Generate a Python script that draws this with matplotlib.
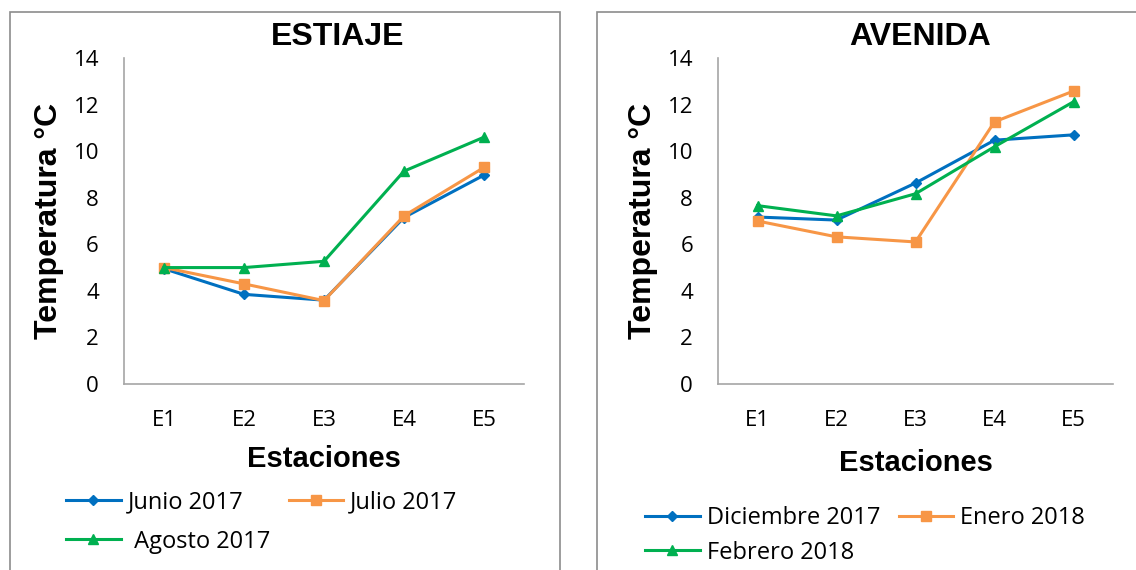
import matplotlib.pyplot as plt
from matplotlib.patches import Rectangle

estaciones = ["E1", "E2", "E3", "E4", "E5"]

junio = [4.95, 3.85, 3.6, 7.15, 8.97]
julio = [5.0, 4.3, 3.58, 7.22, 9.3]
agosto = [5.0, 5.0, 5.27, 9.14, 10.6]

diciembre = [7.17, 7.04, 8.63, 10.47, 10.7]
enero = [7.0, 6.32, 6.1, 11.26, 12.58]
febrero = [7.66, 7.22, 8.17, 10.19, 12.12]

azul = "#0070C0"
naranja = "#F79646"
verde = "#00B050"
W, H = 1136, 570

fig = plt.figure(figsize=(W / 100, H / 100), dpi=100)

# marcos de los graficos
for x0, x1 in [(10, 560), (597, 1140)]:
    fig.patches.append(Rectangle((x0 / W, -0.1), (x1 - x0) / W, (H - 12) / H + 0.1,
                                 transform=fig.transFigure, fill=False,
                                 edgecolor="#8c8c8c", linewidth=1.2))


def panel(left, width, series, title, tx, leg_y, leg_x, lsp, xpad):
    ax = fig.add_axes([left / W, (H - 384) / H, width / W, 326 / H])
    lines = []
    for vals, lab, c, m, ms in series:
        l, = ax.plot(estaciones, vals, color=c, marker=m, markersize=ms, linewidth=2.2, label=lab)
        lines.append(l)
    ax.set_xlim(-0.5, 4.5)
    ax.set_ylim(0, 14)
    ax.set_yticks(range(0, 15, 2))
    for s in ["top", "right"]:
        ax.spines[s].set_visible(False)
    for s in ["left", "bottom"]:
        ax.spines[s].set_color("#a6a6a6")
        ax.spines[s].set_linewidth(1.2)
    ax.tick_params(length=0, labelsize=16)
    ax.tick_params(axis="y", pad=18)
    ax.tick_params(axis="x", pad=19)
    for t in ax.get_xticklabels() + ax.get_yticklabels():
        t.set_fontfamily("Open Sans")
    ax.set_xlabel("Estaciones", fontsize=21, fontweight="bold", family="Liberation Sans", labelpad=xpad)
    ax.set_ylabel("Temperatura °C", fontsize=23, fontweight="bold", family="Liberation Sans", labelpad=7)
    fig.text(tx / W, 1 - 37 / H, title, fontsize=23, fontweight="bold", family="Liberation Sans",
             ha="center", va="center")
    # orden por filas en la leyenda
    orden = [lines[0], lines[2], lines[1]]
    ax.legend(handles=orden, loc="upper left", bbox_to_anchor=(leg_x / W, 1 - leg_y / H),
              bbox_transform=fig.transFigure, ncol=2, frameon=False,
              prop={"family": "Open Sans", "size": 17}, handlelength=2.3,
              handletextpad=0.3, columnspacing=0.8, labelspacing=lsp)
    return ax


panel(124, 400, [(junio, "Junio 2017", azul, "D", 5),
                 (julio, "Julio 2017", naranja, "s", 7),
                 (agosto, " Agosto 2017", verde, "^", 7)],
      "ESTIAJE", 338, 469, 45, 0.65, 10)
panel(718, 395, [(diciembre, "Diciembre 2017", azul, "D", 5),
                 (enero, "Enero 2018", naranja, "s", 7),
                 (febrero, "Febrero 2018", verde, "^", 7)],
      "AVENIDA", 920, 485, 624, 0.44, 13)

fig.savefig("out.png", dpi=100)
